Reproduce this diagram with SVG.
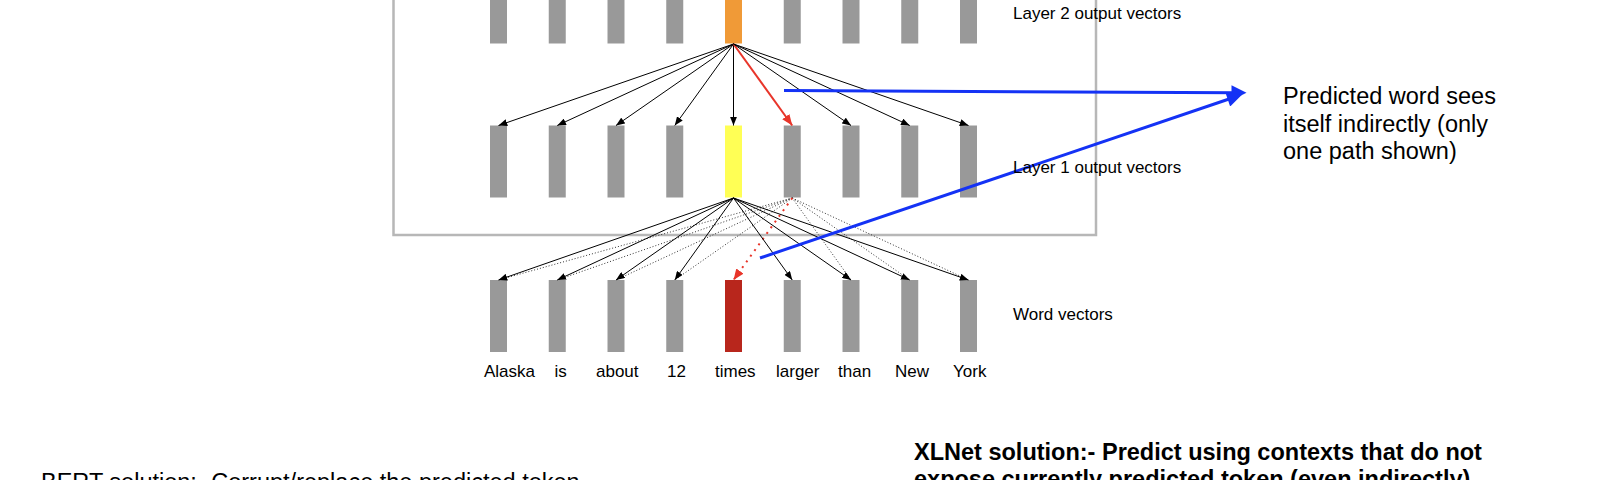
<svg xmlns="http://www.w3.org/2000/svg" width="1600" height="480" viewBox="0 0 1600 480">
<defs>
<style>
.bar{fill:#999999}
.lbl{font-family:"Liberation Sans",Arial,sans-serif;font-size:17px;fill:#000}
.big{font-family:"Liberation Sans",Arial,sans-serif;font-size:23.5px;fill:#000}
.bold{font-weight:bold}
.ln{stroke:#000;stroke-width:1;fill:none}
.dot{stroke:#333;stroke-width:1;stroke-dasharray:1 2;fill:none}
.red{stroke:#e8352a;stroke-width:2;fill:none}
.reddot{stroke:#e8352a;stroke-width:2;stroke-dasharray:2 5;fill:none}
.blue{stroke:#1432f5;stroke-width:3;fill:none}
</style>
<marker id="ah" viewBox="0 0 10 8" refX="10" refY="4" markerUnits="userSpaceOnUse" markerWidth="9" markerHeight="7" orient="auto"><path d="M0,0 L10,4 L0,8 z" fill="#000"/></marker>
<marker id="ahr" viewBox="0 0 10 8" refX="10" refY="4" markerUnits="userSpaceOnUse" markerWidth="11" markerHeight="9" orient="auto"><path d="M0,0 L10,4 L0,8 z" fill="#e8352a"/></marker>
<marker id="ahb" viewBox="0 0 10 10" refX="3" refY="5" markerUnits="userSpaceOnUse" markerWidth="16" markerHeight="15" orient="auto"><path d="M0,0 L10,5 L0,10 z" fill="#1432f5"/></marker>
</defs>
<rect id="frame" x="393.5" y="-40" width="702.5" height="275" fill="none" stroke="#b7b7b7" stroke-width="2.5"/>

<g id="layer2">
<rect class="bar" x="490" y="-30" width="17" height="73.5"/>
<rect class="bar" x="548.75" y="-30" width="17" height="73.5"/>
<rect class="bar" x="607.5" y="-30" width="17" height="73.5"/>
<rect class="bar" x="666.25" y="-30" width="17" height="73.5"/>
<rect x="725" y="-30" width="17" height="73.5" fill="#f09a37"/>
<rect class="bar" x="783.75" y="-30" width="17" height="73.5"/>
<rect class="bar" x="842.5" y="-30" width="17" height="73.5"/>
<rect class="bar" x="901.25" y="-30" width="17" height="73.5"/>
<rect class="bar" x="960" y="-30" width="17" height="73.5"/>
</g>
<g id="layer1">
<rect class="bar" x="490" y="125.5" width="17" height="72"/>
<rect class="bar" x="548.75" y="125.5" width="17" height="72"/>
<rect class="bar" x="607.5" y="125.5" width="17" height="72"/>
<rect class="bar" x="666.25" y="125.5" width="17" height="72"/>
<rect x="725" y="125.5" width="17" height="72" fill="#ffff55"/>
<rect class="bar" x="783.75" y="125.5" width="17" height="72"/>
<rect class="bar" x="842.5" y="125.5" width="17" height="72"/>
<rect class="bar" x="901.25" y="125.5" width="17" height="72"/>
<rect class="bar" x="960" y="125.5" width="17" height="72"/>
</g>
<g id="words">
<rect class="bar" x="490" y="280" width="17" height="72"/>
<rect class="bar" x="548.75" y="280" width="17" height="72"/>
<rect class="bar" x="607.5" y="280" width="17" height="72"/>
<rect class="bar" x="666.25" y="280" width="17" height="72"/>
<rect x="725" y="280" width="17" height="72" fill="#b8261c"/>
<rect class="bar" x="783.75" y="280" width="17" height="72"/>
<rect class="bar" x="842.5" y="280" width="17" height="72"/>
<rect class="bar" x="901.25" y="280" width="17" height="72"/>
<rect class="bar" x="960" y="280" width="17" height="72"/>
</g>

<g id="connectors">
<line class="ln" x1="733.5" y1="44" x2="498.5" y2="125.5" marker-end="url(#ah)"/>
<line class="ln" x1="733.5" y1="44" x2="557.25" y2="125.5" marker-end="url(#ah)"/>
<line class="ln" x1="733.5" y1="44" x2="616" y2="125.5" marker-end="url(#ah)"/>
<line class="ln" x1="733.5" y1="44" x2="674.75" y2="125.5" marker-end="url(#ah)"/>
<line class="ln" x1="733.5" y1="44" x2="733.5" y2="125.5" marker-end="url(#ah)"/>
<line class="red" x1="733.5" y1="44" x2="792.25" y2="125.5" marker-end="url(#ahr)"/>
<line class="ln" x1="733.5" y1="44" x2="851" y2="125.5" marker-end="url(#ah)"/>
<line class="ln" x1="733.5" y1="44" x2="909.75" y2="125.5" marker-end="url(#ah)"/>
<line class="ln" x1="733.5" y1="44" x2="968.5" y2="125.5" marker-end="url(#ah)"/>

<line class="dot" x1="792.25" y1="198" x2="498.5" y2="280"/>
<line class="dot" x1="792.25" y1="198" x2="557.25" y2="280"/>
<line class="dot" x1="792.25" y1="198" x2="616" y2="280"/>
<line class="dot" x1="792.25" y1="198" x2="674.75" y2="280"/>
<line class="dot" x1="792.25" y1="198" x2="851" y2="280"/>
<line class="dot" x1="792.25" y1="198" x2="909.75" y2="280"/>
<line class="dot" x1="792.25" y1="198" x2="968.5" y2="280"/>
<line class="reddot" x1="792.25" y1="198" x2="733.5" y2="280" marker-end="url(#ahr)"/>

<line class="ln" x1="733.5" y1="198" x2="498.5" y2="280" marker-end="url(#ah)"/>
<line class="ln" x1="733.5" y1="198" x2="557.25" y2="280" marker-end="url(#ah)"/>
<line class="ln" x1="733.5" y1="198" x2="616" y2="280" marker-end="url(#ah)"/>
<line class="ln" x1="733.5" y1="198" x2="674.75" y2="280" marker-end="url(#ah)"/>
<line class="ln" x1="733.5" y1="198" x2="792.25" y2="280" marker-end="url(#ah)"/>
<line class="ln" x1="733.5" y1="198" x2="851" y2="280" marker-end="url(#ah)"/>
<line class="ln" x1="733.5" y1="198" x2="909.75" y2="280" marker-end="url(#ah)"/>
<line class="ln" x1="733.5" y1="198" x2="968.5" y2="280" marker-end="url(#ah)"/>

<line class="blue" x1="784" y1="90.5" x2="1236" y2="92.8" marker-end="url(#ahb)"/>
<line class="blue" x1="760" y1="258" x2="1232" y2="98" marker-end="url(#ahb)"/>
</g>

<g id="labels">
<text class="lbl" x="1013" y="18.5">Layer 2 output vectors</text>
<text class="lbl" x="1013" y="172.5">Layer 1 output vectors</text>
<text class="lbl" x="1013" y="320">Word vectors</text>
<text class="lbl" x="484" y="377">Alaska</text>
<text class="lbl" x="554.5" y="377">is</text>
<text class="lbl" x="596" y="377">about</text>
<text class="lbl" x="667" y="377">12</text>
<text class="lbl" x="715" y="377">times</text>
<text class="lbl" x="776" y="377">larger</text>
<text class="lbl" x="838" y="377">than</text>
<text class="lbl" x="895" y="377">New</text>
<text class="lbl" x="953" y="377">York</text>
</g>
<g id="note">
<text class="big" x="1283" y="104">Predicted word sees</text>
<text class="big" x="1283" y="131.5">itself indirectly (only</text>
<text class="big" x="1283" y="159">one path shown)</text>
</g>
<g id="bottom">
<text class="big" x="41" y="490">BERT solution:- Corrupt/replace the predicted token</text>
<text class="big bold" x="914" y="459.5">XLNet solution:- Predict using contexts that do not</text>
<text class="big bold" x="914" y="486.5">expose currently predicted token (even indirectly)</text>
</g>
</svg>
